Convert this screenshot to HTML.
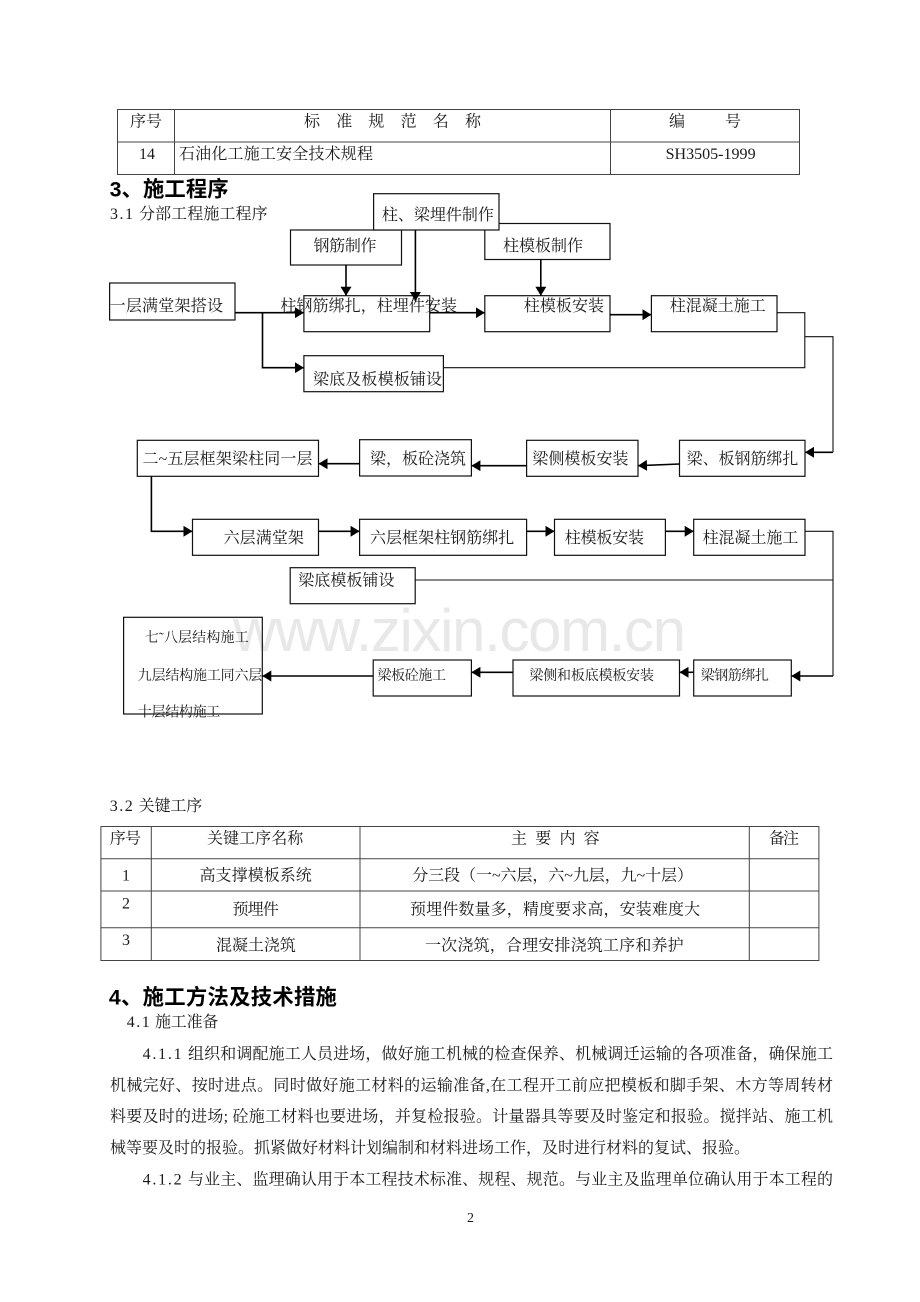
<!DOCTYPE html>
<html><head><meta charset="utf-8">
<style>
html,body{margin:0;padding:0;background:#fff;width:920px;height:1302px;overflow:hidden}
svg{display:block}
text{font-family:"Liberation Serif","Noto Serif CJK SC",serif;font-size:16px;fill:#1a1a1a}
.c{font-family:"Noto Serif CJK SC",serif}
.d{font-family:"Liberation Serif",serif}
.h{font-family:"Liberation Sans","Noto Sans CJK SC",sans-serif;font-weight:bold;font-size:21.33px;fill:#000}
.s{font-size:14px}
.g{fill:none;stroke:#444;stroke-width:1}
.b{fill:#fff;stroke:#111;stroke-width:1.2}
.n{fill:none;stroke:#111;stroke-width:1.1}
.l{fill:none;stroke:#000;stroke-width:1.6}
</style></head><body>
<svg width="920" height="1302" viewBox="0 0 920 1302" xmlns="http://www.w3.org/2000/svg">
<defs>
<marker id="r" markerUnits="userSpaceOnUse" markerWidth="11" markerHeight="11" refX="9" refY="5.5" orient="auto"><path d="M0 0L9 5.5L0 11z"/></marker>
</defs>

<!-- table 1 -->
<g class="g"><rect x="117.5" y="109.5" width="682" height="65"/><path d="M174.5 109.5V174.5M610.5 109.5V174.5M117.5 142H799.5"/></g>
<g class="c">
<text x="130" y="126.5" textLength="32">序号</text>
<text x="304" y="126.5" textLength="177">标 准 规 范 名 称</text>
<text x="669" y="126.5">编</text><text x="725" y="126.5">号</text>
<text class="d" x="139" y="159" textLength="16">14</text>
<text x="179" y="159" textLength="194">石油化工施工安全技术规程</text>
<text class="d" x="665.6" y="159" textLength="90" lengthAdjust="spacingAndGlyphs">SH3505-1999</text>
</g>

<text class="h" x="109.6" y="196.5" textLength="119">3、施工程序</text>
<text class="d" x="110" y="219" textLength="23">3.1</text>
<text class="c" x="139" y="219" textLength="128.6">分部工程施工程序</text>

<!-- flow row 1 boxes -->
<g>
<rect class="b" x="290.5" y="230" width="111" height="35"/>
<rect class="b" x="484.8" y="223.5" width="125.2" height="36"/>
<rect class="b" x="373.6" y="193.7" width="125.4" height="36.3"/>
<rect class="b" x="109.6" y="283" width="125.4" height="37"/>
<rect class="b" x="303.9" y="295.7" width="125.8" height="36"/>
<rect class="b" x="484.8" y="295.7" width="125.2" height="36"/>
<rect class="b" x="651.4" y="295.7" width="125.6" height="36"/>
<rect class="b" x="303.9" y="355.7" width="139.5" height="36"/>
</g>

<!-- row 1 connectors -->
<path class="l" d="M235 312.7H303.9" marker-end="url(#r)"/>
<path class="l" d="M262.5 312.7V367.7H303.9" marker-end="url(#r)"/>
<path class="l" d="M346 265V295.7" marker-end="url(#r)"/>
<path class="l" d="M415.4 230V301" marker-end="url(#r)"/>
<path class="l" d="M540.8 259.7V295.7" marker-end="url(#r)"/>
<path class="l" d="M429.7 312.7H484.8" marker-end="url(#r)"/>
<path class="l" d="M610 314.7H651.4" marker-end="url(#r)"/>
<path class="n" d="M777 312.7H804.8V367.7H443.4"/>
<path class="n" d="M804.8 336.7H833V452.3"/>
<path class="l" d="M833 452.3H805" marker-end="url(#r)"/>

<g class="c">
<text x="381.9" y="220" textLength="112">柱、梁埋件制作</text>
<text x="313.5" y="251" textLength="63">钢筋制作</text>
<text x="503" y="251" textLength="80">柱模板制作</text>
<text x="109.6" y="311" textLength="113.4">一层满堂架搭设</text>
<text x="280.4" y="311" textLength="176.6">柱钢筋绑扎，柱埋件安装</text>
<text x="523.8" y="311" textLength="80.2">柱模板安装</text>
<text x="669.8" y="311" textLength="96">柱混凝土施工</text>
<text x="313" y="384.5" textLength="129">梁底及板模板铺设</text>
</g>

<!-- watermark -->
<text x="233" y="651" textLength="453" style="font-family:'Liberation Sans',sans-serif;font-size:60px;fill:#e8e8e8">www.zixin.com.cn</text>

<!-- flow row 2 -->
<g>
<rect class="b" x="137.3" y="440.3" width="181.2" height="36"/>
<rect class="b" x="359.6" y="439.7" width="111.8" height="36.3"/>
<rect class="b" x="526.6" y="440.3" width="111.4" height="36"/>
<rect class="b" x="679.5" y="440.3" width="125.5" height="36"/>
</g>
<path class="l" d="M679.5 464L638 465.7" marker-end="url(#r)"/>
<path class="l" d="M526.6 465.7H471.4" marker-end="url(#r)"/>
<path class="l" d="M359.6 463.7H318.5" marker-end="url(#r)"/>
<path class="l" d="M151.4 476.3V531.3H192.5" marker-end="url(#r)"/>
<g class="c">
<text x="142.5" y="464" textLength="170">二~五层框架梁柱同一层</text>
<text x="370" y="464" textLength="96">梁，板砼浇筑</text>
<text x="532.3" y="464" textLength="96.2">梁侧模板安装</text>
<text x="686.6" y="464" textLength="111.8">梁、板钢筋绑扎</text>
</g>

<!-- flow row 3 -->
<g>
<rect class="b" x="192.5" y="519.3" width="126" height="36"/>
<rect class="b" x="359.6" y="519.3" width="167" height="36"/>
<rect class="b" x="554.5" y="519.3" width="110.9" height="36"/>
<rect class="b" x="693.7" y="519.3" width="111.3" height="36"/>
<rect class="b" x="290.2" y="567.7" width="125" height="36"/>
</g>
<path class="l" d="M318.5 531.3H359.6" marker-end="url(#r)"/>
<path class="l" d="M526.6 531.3H554.5" marker-end="url(#r)"/>
<path class="l" d="M665.4 531.3H693.7" marker-end="url(#r)"/>
<path class="n" d="M805 531.3H833V676"/>
<path class="n" d="M415.2 580H833"/>
<path class="l" d="M833 676H791.3" marker-end="url(#r)"/>
<g class="c">
<text x="223.6" y="543" textLength="80.3">六层满堂架</text>
<text x="370" y="543" textLength="144.3">六层框架柱钢筋绑扎</text>
<text x="564.8" y="543" textLength="79.2">柱模板安装</text>
<text x="702.6" y="543" textLength="95.8">柱混凝土施工</text>
<text x="298.2" y="585.5" textLength="96.3">梁底模板铺设</text>
</g>

<!-- flow row 4 -->
<g>
<rect x="123.6" y="617.3" width="138.7" height="96.7" style="fill:none;stroke:#111;stroke-width:1.2"/>
<rect class="b" x="373.2" y="660" width="98.2" height="36"/>
<rect class="b" x="513" y="660" width="166.5" height="36"/>
<rect class="b" x="693.7" y="660" width="97.6" height="36"/>
</g>
<path class="l" d="M693.7 672.3H679.5" marker-end="url(#r)"/>
<path class="l" d="M513 672.3H471.4" marker-end="url(#r)"/>
<path class="l" d="M373.2 676H262.3" marker-end="url(#r)"/>
<g class="c">
<text class="s" x="144.8" y="642" textLength="103.9">七˜八层结构施工</text>
<text class="s" x="137.8" y="680" textLength="124.5">九层结构施工同六层</text>
<text class="s" x="137.8" y="716.5" textLength="82.5">十层结构施工</text>
<text class="s" x="377.5" y="680" textLength="68.5">梁板砼施工</text>
<text class="s" x="529.4" y="680" textLength="124.6">梁侧和板底模板安装</text>
<text class="s" x="700.7" y="680" textLength="68.3">梁钢筋绑扎</text>
</g>

<!-- 3.2 -->
<text class="d" x="109.8" y="811" textLength="23">3.2</text>
<text class="c" x="138.6" y="811" textLength="63.7">关键工序</text>
<g class="g"><rect x="100.9" y="826.5" width="718" height="134"/><path d="M151.3 826.5V960.5M360 826.5V960.5M749.3 826.5V960.5M100.9 858.7H818.9M100.9 891H818.9M100.9 927.7H818.9"/></g>
<g class="c">
<text x="109.8" y="843.5" textLength="31.2">序号</text>
<text x="207" y="843.5" textLength="96.3">关键工序名称</text>
<text x="511" y="843.5" textLength="88.7">主 要 内 容</text>
<text x="768.6" y="843.5" textLength="30.4">备注</text>
<text class="d" x="122" y="880.5">1</text>
<text x="199.5" y="880.5" textLength="112.3">高支撑模板系统</text>
<text x="412.3" y="880.5" textLength="280.7">分三段（一~六层，六~九层，九~十层）</text>
<text class="d" x="122" y="908.5">2</text>
<text x="232.5" y="914.5" textLength="46.3">预埋件</text>
<text x="410" y="914.5" textLength="290.2">预埋件数量多，精度要求高，安装难度大</text>
<text class="d" x="122" y="945">3</text>
<text x="216" y="950.5" textLength="79.8">混凝土浇筑</text>
<text x="425" y="950.5" textLength="258.7">一次浇筑，合理安排浇筑工序和养护</text>
</g>

<text class="h" x="108.9" y="1004.5" textLength="228">4、施工方法及技术措施</text>
<text class="d" x="126.8" y="1027" textLength="23">4.1</text>
<text class="c" x="155" y="1027" textLength="63.4">施工准备</text>

<g class="c">
<text class="d" x="142.6" y="1059" textLength="39">4.1.1</text>
<text x="188" y="1059" textLength="645">组织和调配施工人员进场，做好施工机械的检查保养、机械调迁运输的各项准备，确保施工</text>
<text x="110" y="1090.5" textLength="723">机械完好、按时进点。同时做好施工材料的运输准备,在工程开工前应把模板和脚手架、木方等周转材</text>
<text x="110" y="1121.5" textLength="723">料要及时的进场; 砼施工材料也要进场，并复检报验。计量器具等要及时鉴定和报验。搅拌站、施工机</text>
<text x="110" y="1153" textLength="640">械等要及时的报验。抓紧做好材料计划编制和材料进场工作，及时进行材料的复试、报验。</text>
<text class="d" x="142.6" y="1184.5" textLength="39">4.1.2</text>
<text x="188" y="1184.5" textLength="645">与业主、监理确认用于本工程技术标准、规程、规范。与业主及监理单位确认用于本工程的</text>
<text class="d" x="467" y="1222" style="font-size:14px">2</text>
</g>
</svg>
</body></html>
